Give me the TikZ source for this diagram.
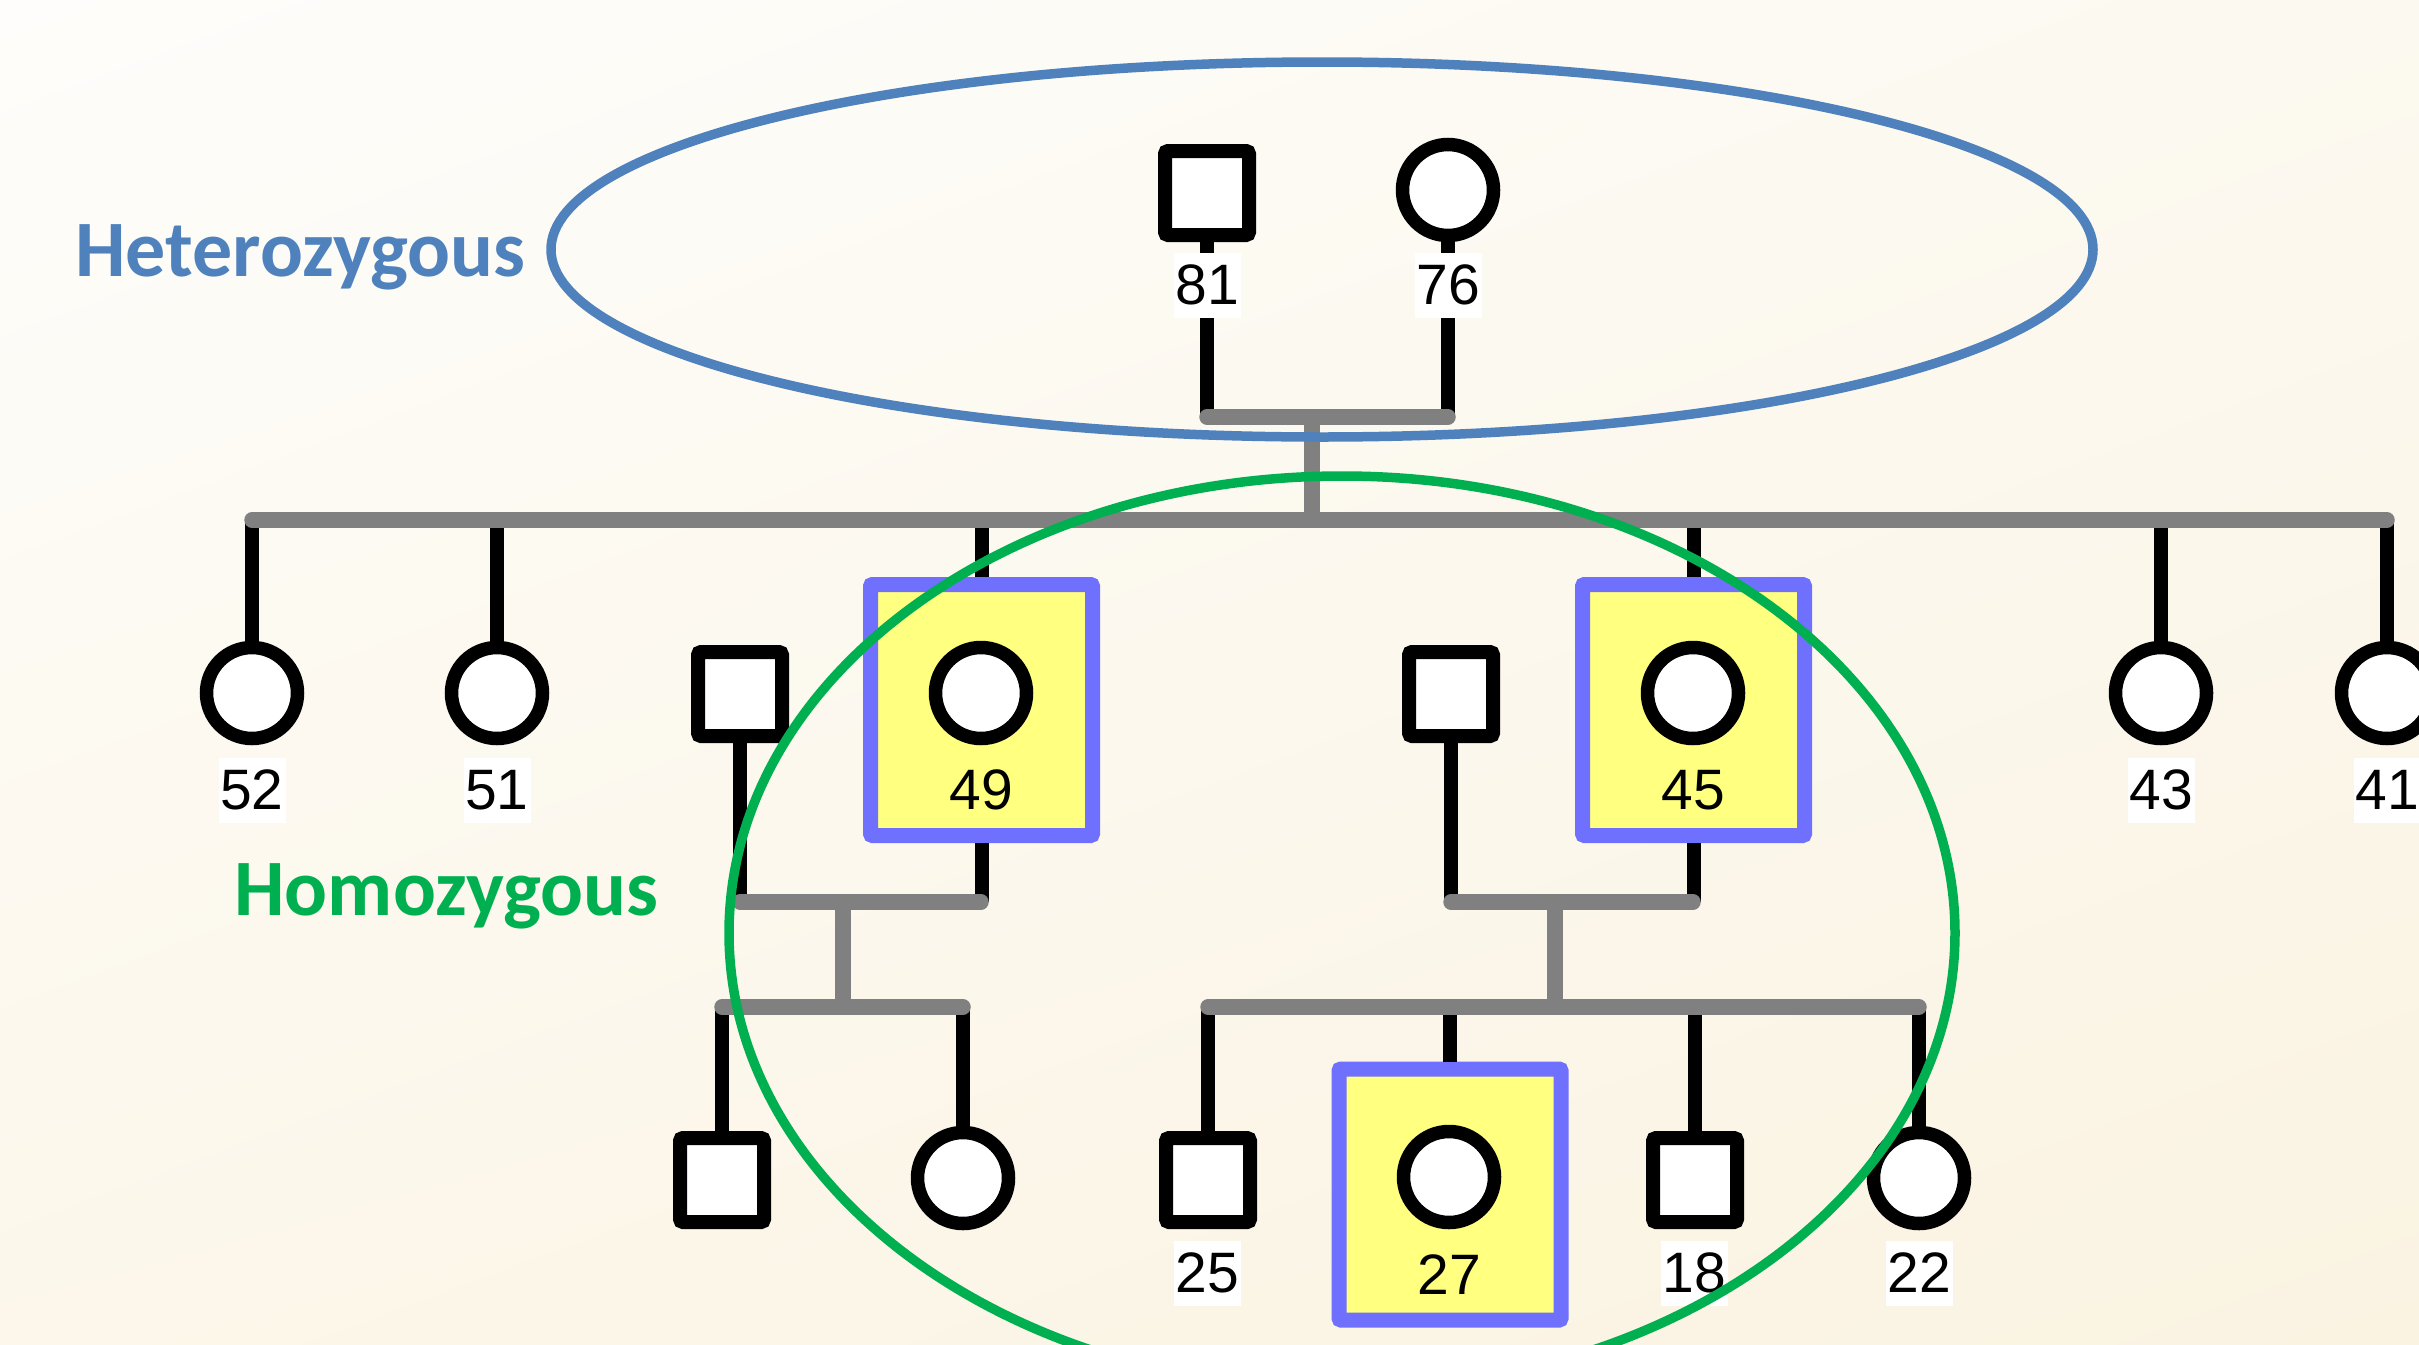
\documentclass[tikz,border=0pt]{standalone}
\usepackage{fontspec}
\usetikzlibrary{shadings}
\setmainfont{Liberation Sans}
\newfontfamily\titlefont{Carlito}
\definecolor{hetblue}{RGB}{79,129,189}
\definecolor{homgreen}{RGB}{0,176,80}
\definecolor{hlblue}{RGB}{112,112,255}
\definecolor{hlyellow}{RGB}{255,255,128}
\definecolor{bargray}{RGB}{128,128,128}
\definecolor{bgTL}{RGB}{254,253,251}
\definecolor{bgTR}{RGB}{252,249,240}
\definecolor{bgBL}{RGB}{252,247,234}
\definecolor{bgBR}{RGB}{250,243,226}
\begin{document}
\begin{tikzpicture}[x=1pt,y=-1pt,
  male/.style={draw=black, line width=14, fill=white, minimum size=84, rounded corners=3, inner sep=0},
  female/.style={circle, draw=black, line width=13.5, fill=white, minimum size=91, inner sep=0},
  age/.style={font=\fontsize{57}{60}\selectfont, fill=white, inner sep=0, minimum width=67, minimum height=65},
  agebare/.style={font=\fontsize{57}{60}\selectfont, inner sep=0, minimum width=67, minimum height=65},
  hlbox/.style={draw=hlblue, fill=hlyellow, line width=15, minimum width=222, minimum height=251, inner sep=0, rounded corners=2},
  kin/.style={line width=14, black},
  bar/.style={line width=15.5, bargray, line cap=round},
  title/.style={font=\titlefont\bfseries\fontsize{80}{90}\selectfont, anchor=base, inner sep=0},
  ring/.style={line width=9.5}]
\clip (0,0) rectangle (2419,1344);
\shade[upper left=bgTL, upper right=bgTR, lower left=bgBL, lower right=bgBR] (0,0) rectangle (2419,1344);

% highlight boxes
\node[hlbox] (hl49) at (981.5,710) {};
\node[hlbox] (hl45) at (1693.5,710) {};
\node[hlbox] (hl27) at (1450,1194.5) {};

% generation I
\node[male] (s81) at (1207,193) {};
\node[female] (c76) at (1448,190) {};

% generation II
\node[female] (c52) at (252,693) {};
\node[female] (c51) at (497,693) {};
\node[male] (sp1) at (740,694) {};
\node[female] (c49) at (981,693) {};
\node[male] (sp2) at (1451,694) {};
\node[female] (c45) at (1693,693) {};
\node[female] (c43) at (2161,693) {};
\node[female] (c41) at (2387,693) {};

% generation III
\node[male] (k1) at (722,1180) {};
\node[female] (k2) at (963,1178) {};
\node[male] (s25) at (1208,1180) {};
\node[female] (c27) at (1449,1177) {};
\node[male] (s18) at (1695,1180) {};
\node[female] (c22) at (1919,1178) {};

% bar coordinates
\coordinate (m1L) at (1207,417);
\coordinate (m1R) at (1448,417);
\coordinate (m1D) at (1312,417);
\coordinate (sibL) at (252,520);
\coordinate (sibR) at (2387,520);
\coordinate (sibD) at (1312,520);
\coordinate (m2L) at (740,902);
\coordinate (m2R) at (981,902);
\coordinate (m2D) at (843,902);
\coordinate (m3L) at (1451,902);
\coordinate (m3R) at (1693,902);
\coordinate (m3D) at (1555,902);
\coordinate (k1L) at (722,1007);
\coordinate (k1R) at (963,1007);
\coordinate (k1D) at (843,1007);
\coordinate (k2L) at (1208,1007);
\coordinate (k2R) at (1919,1007);
\coordinate (k2D) at (1555,1007);

% black stems
\draw[kin] (s81.south) -- (m1L);
\draw[kin] (c76.south) -- (m1R);
\foreach \n in {c52,c51,c43,c41,hl49,hl45}
  \draw[kin] (\n.north) -- (\n.north |- sibL);
\draw[kin] (sp1.south) -- (sp1.south |- m2L);
\draw[kin] (hl49.south) -- (hl49.south |- m2R);
\draw[kin] (sp2.south) -- (sp2.south |- m3L);
\draw[kin] (hl45.south) -- (hl45.south |- m3R);
\foreach \n in {k1,k2}
  \draw[kin] (\n.north) -- (\n.north |- k1L);
\foreach \n in {s25,hl27,s18,c22}
  \draw[kin] (\n.north) -- (\n.north |- k2L);

% gray bars
\draw[bar] (m1L) -- (m1R);
\draw[bar] (m1D) -- (sibD);
\draw[bar] (sibL) -- (sibR);
\draw[bar] (m2L) -- (m2R);
\draw[bar] (m2D) -- (k1D);
\draw[bar] (k1L) -- (k1R);
\draw[bar] (m3L) -- (m3R);
\draw[bar] (m3D) -- (k2D);
\draw[bar] (k2L) -- (k2R);

% age labels
\node[age] (l81) at (1207,285) {81};
\node[age] (l76) at (1448,285) {76};
\node[age] (l52) at (252,790) {52};
\node[age] (l51) at (497,790) {51};
\node[agebare] (l49) at (981,790) {49};
\node[agebare] (l45) at (1693,790) {45};
\node[age] (l43) at (2161,790) {43};
\node[age] (l41) at (2387,790) {41};
\node[age] (l25) at (1207,1273) {25};
\node[agebare] (l27) at (1449,1275) {27};
\node[age] (l18) at (1694,1273) {18};
\node[age] (l22) at (1919,1273) {22};

% titles
\node[title, text=hetblue] (het) at (300.5,276) {Heterozygous};
\node[title, text=homgreen] (hom) at (446.5,915) {Homozygous};

% grouping ellipses
\draw[ring, hetblue] (1322,249.5) ellipse [x radius=771, y radius=187.5];
\draw[ring, homgreen] (1342,933) ellipse [x radius=613, y radius=457];
\end{tikzpicture}
\end{document}
